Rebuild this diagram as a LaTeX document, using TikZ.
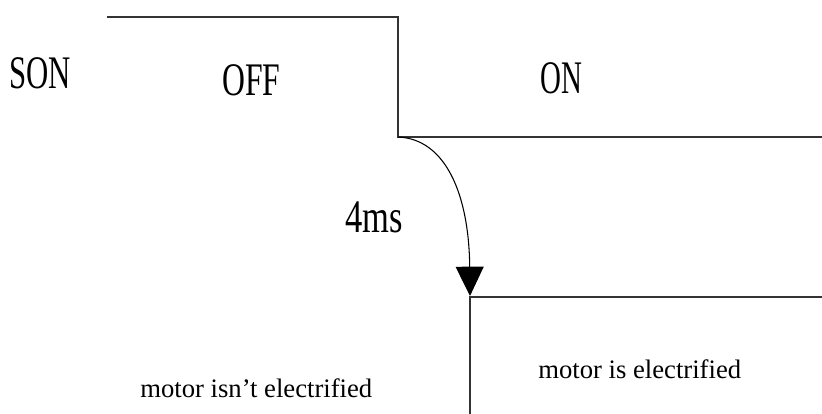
\documentclass[tikz,border=0pt]{standalone}
\usepackage{fontspec}
\setmainfont{Liberation Serif}
\usetikzlibrary{arrows.meta}
\newcommand{\narrowtxt}[2][0.66]{\scalebox{#1}[1]{\fontsize{35}{40}\selectfont #2}}

\begin{document}
\begin{tikzpicture}[x=0.75pt,y=-0.75pt]
\useasboundingbox (0,0) rectangle (822,414);
\tikzset{wave/.style={line width=0.9pt,color=black!80},
	lbl/.style={inner sep=0pt,anchor=base west}}

% SON signal
\draw[wave](107,17)--(398,17)--(398,137)--(822,137);
% motor signal
\draw[wave](470,414)--(470,297)--(822,297);

\coordinate (edge) at (398,137);
\coordinate (power) at (470,296);
\draw[line width=0.8pt,-{Triangle[width=21pt,length=22pt]}](edge) .. controls (446,139) and (469,195) .. (power);

\node[lbl] (son) at (9,88){\narrowtxt{SON}};
\node[lbl] (off) at (222,95){\narrowtxt[0.68]{OFF}};
\node[lbl] (on) at (540,93){\narrowtxt[0.62]{ON}};
\node[lbl] (delay) at (345,232){\narrowtxt[0.74]{4ms}};
\node[lbl,font=\fontsize{20}{24}\selectfont] (nopower) at (140,397){motor isn’t electrified};
\node[lbl,font=\fontsize{20}{24}\selectfont] (haspower) at (538,378){motor is electrified};
\end{tikzpicture}
\end{document}
